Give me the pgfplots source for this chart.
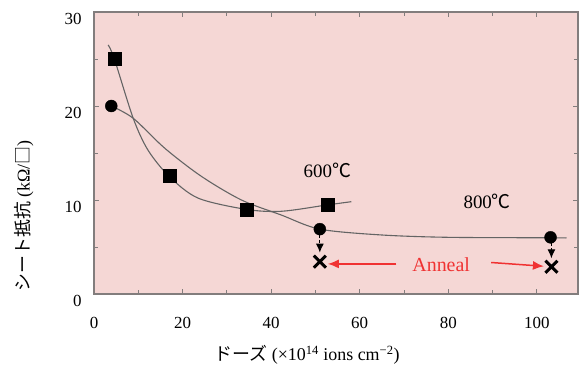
\documentclass[border=0pt]{standalone}
\usepackage{pgfplots}
\pgfplotsset{compat=1.18}
\usepackage{fontspec}
\setmainfont{Liberation Serif}
\newfontfamily\jp{Noto Sans CJK JP}
\usetikzlibrary{arrows.meta}
\definecolor{bgpink}{RGB}{245,215,213}
\definecolor{annred}{RGB}{240,50,50}
\definecolor{axgray}{RGB}{130,125,125}
\definecolor{curvegray}{RGB}{100,100,100}
\begin{document}
\begin{tikzpicture}
\useasboundingbox (0bp,0bp) rectangle (581bp,376bp);
\begin{axis}[
  at={(94bp,82bp)}, anchor=south west,
  scale only axis, width=484bp, height=282bp,
  xmin=0, xmax=109.3, ymin=0, ymax=30,
  axis background/.style={fill=bgpink},
  axis line style={axgray, line width=1.3bp},
  tick style={axgray, line width=0.8bp},
  tick align=inside,
  major tick length=5bp, minor tick length=4bp,
  xtick={0,20,...,100}, minor xtick={10,30,...,90},
  ytick={0,10,20,30}, minor ytick={5,15,25},
  /pgf/number format/assume math mode=true,
  tick label style={font=\fontsize{17}{18}\selectfont},
  xticklabel style={anchor=center, yshift=-29bp},
  yticklabel style={anchor=east, xshift=-9bp, yshift=-7bp},
  clip=false,
]
% 600 C fitted curve
\addplot[curvegray, line width=1.1bp, smooth] coordinates {
 (3.2,26.5) (4.6,25) (8.85,18.7) (12.2,15.3) (17,12.5) (23.5,10.2) (34.4,9.0) (42.3,8.8) (52.6,9.47) (58.1,9.82)};
% 800 C fitted curve
\addplot[curvegray, line width=1.1bp, smooth] coordinates {
 (3.9,20) (8.85,18.7) (16,15.5) (24.3,12.5) (33.3,10) (42.3,8.4) (51,6.9) (64.9,6.28) (80,6.03) (103.1,5.98) (106.7,5.96)};
% 600 C data
\addplot[only marks, mark=square*, mark size=6.5bp, black] coordinates {
 (4.6,25) (17,12.55) (34.4,9.0) (52.7,9.45)};
% 800 C data
\addplot[only marks, mark=*, mark size=6bp, black] coordinates {
 (3.9,20) (51,6.9) (103.1,6.03)};
% annealed
\addplot[only marks, mark=x, mark size=8.5bp, black, mark options={line width=3bp}] coordinates {
 (51,3.44) (103.3,2.9)};
% dashed arrows
\addplot[black, densely dashed, line width=1bp, -{Latex[length=9bp,width=8bp]}] coordinates {(51,6.3) (51,4.4)};
\addplot[black, densely dashed, line width=1bp, -{Latex[length=9bp,width=8bp]}] coordinates {(103.3,5.4) (103.3,3.8)};
% red arrows
\addplot[annred, line width=1.5bp, -{Latex[length=11bp,width=9bp]}] coordinates {(68.3,3.2) (52.8,3.2)};
\addplot[annred, line width=1.5bp, -{Latex[length=11bp,width=9bp]}] coordinates {(89.7,3.35) (101.6,2.95)};
\node[font=\fontsize{20}{22}\selectfont, annred] at (axis cs:78.4,3.1) {Anneal};
\node[font=\fontsize{19}{22}\selectfont] at (axis cs:52.7,13.2) {600{\jp ℃}};
\node[font=\fontsize{19}{22}\selectfont] at (axis cs:88.8,9.8) {800{\jp ℃}};
\end{axis}
\node[font=\fontsize{18}{20}\selectfont] at (307bp,21bp) {{\jp ドーズ} (×10\textsuperscript{14} ions cm\textsuperscript{−2})};
\node[rotate=90, font=\fontsize{18}{20}\selectfont] at (24bp,160bp) {{\jp シート抵抗} (kΩ/{\jp □})};
\end{tikzpicture}
\end{document}
